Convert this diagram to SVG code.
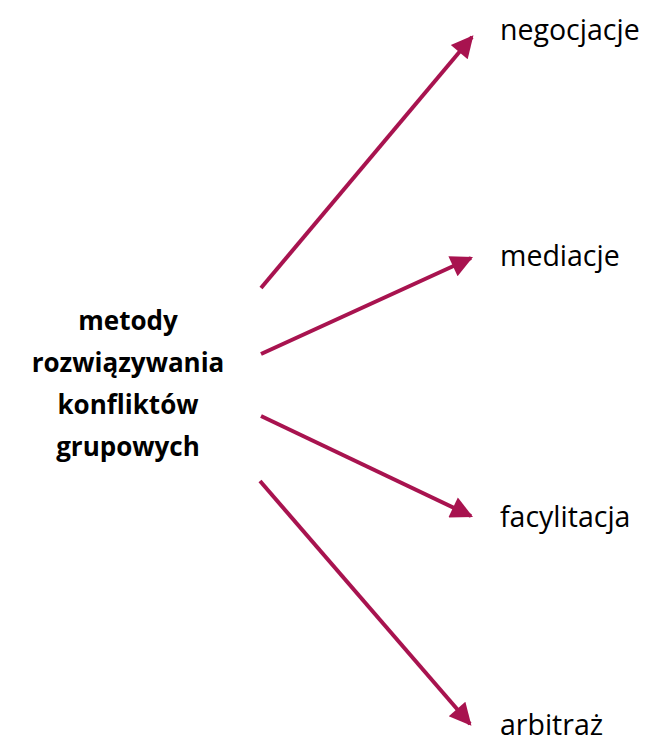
<svg xmlns="http://www.w3.org/2000/svg" width="646" height="744" viewBox="0 0 646 744">
<style>
.lbl{font-family:"Open Sans","Liberation Sans",sans-serif;font-size:28.5px;fill:#000}
.ctr{font-family:"Open Sans","Liberation Sans",sans-serif;font-size:26px;font-weight:bold;fill:#000;text-anchor:middle}
.con{stroke:#A8134F;stroke-width:4;fill:none}
</style>
<defs>
<marker id="ah" viewBox="0 0 10 10" refX="9" refY="5" markerWidth="6" markerHeight="5.5" markerUnits="strokeWidth" orient="auto">
<path d="M0,0 L10,5 L0,10 z" fill="#A8134F"/>
</marker>
</defs>
<rect width="646" height="744" fill="#fff"/>
<g id="connectors">
<line class="con" x1="261" y1="288" x2="472" y2="37" marker-end="url(#ah)"/>
<line class="con" x1="261" y1="354" x2="471" y2="258" marker-end="url(#ah)"/>
<line class="con" x1="261" y1="416" x2="471" y2="516" marker-end="url(#ah)"/>
<line class="con" x1="260" y1="481" x2="470" y2="724" marker-end="url(#ah)"/>
</g>
<g id="center">
<text class="ctr" x="128" y="330">metody</text>
<text class="ctr" x="128" y="372">rozwiązywania</text>
<text class="ctr" x="128" y="414">konfliktów</text>
<text class="ctr" x="128" y="456">grupowych</text>
</g>
<g id="n1"><text class="lbl" x="500" y="40">negocjacje</text></g>
<g id="n2"><text class="lbl" x="500" y="266">mediacje</text></g>
<g id="n3"><text class="lbl" x="500" y="527">facylitacja</text></g>
<g id="n4"><text class="lbl" x="500" y="735">arbitraż</text></g>
</svg>
